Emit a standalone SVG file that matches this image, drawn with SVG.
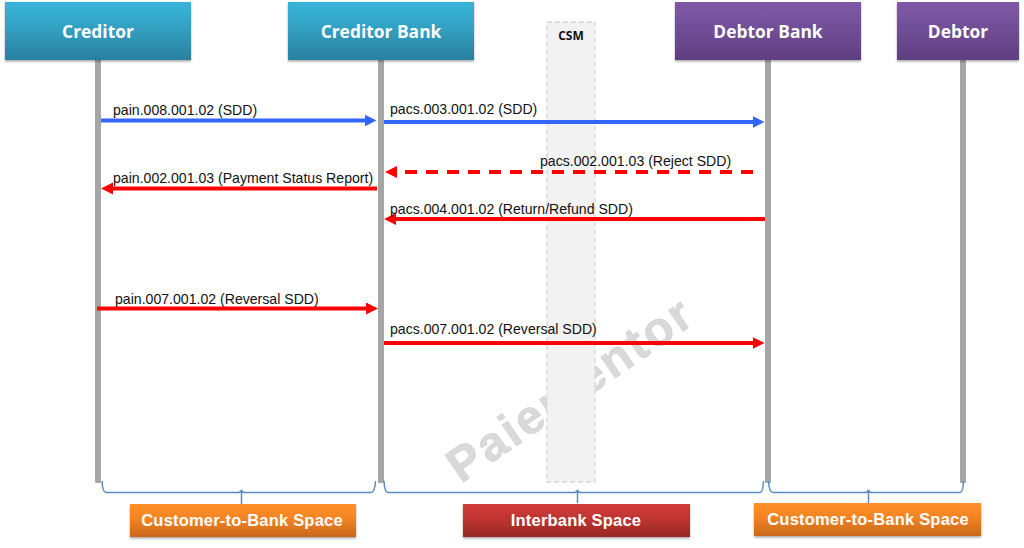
<svg xmlns="http://www.w3.org/2000/svg" width="1024" height="548" viewBox="0 0 1024 548">
<style>
.hd{font:bold 17.4px "Open Sans","Liberation Sans",sans-serif;fill:#fff;text-anchor:middle}
.lb{font:14.1px "Liberation Sans",Arial,sans-serif;fill:#111}
.sp{font:bold 16.5px "Liberation Sans",Arial,sans-serif;fill:#fff;text-anchor:middle;letter-spacing:.2px}
.life{fill:#a6a6a6}
.blue{stroke:#3366ff;stroke-width:4;fill:none}
.red{stroke:#ff0000;stroke-width:4;fill:none}
.brace{stroke:#5b8ac6;stroke-width:1.5;fill:none}
</style>
<defs>
<linearGradient id="t" x1="0" y1="0" x2="0" y2="1"><stop offset="0" stop-color="#38b4d8"/><stop offset=".35" stop-color="#33a6c8"/><stop offset="1" stop-color="#2a809e"/></linearGradient>
<linearGradient id="p" x1="0" y1="0" x2="0" y2="1"><stop offset="0" stop-color="#7f59a8"/><stop offset=".35" stop-color="#74519b"/><stop offset="1" stop-color="#5e3f80"/></linearGradient>
<linearGradient id="o" x1="0" y1="0" x2="0" y2="1"><stop offset="0" stop-color="#ff9029"/><stop offset=".4" stop-color="#f58523"/><stop offset="1" stop-color="#c8681c"/></linearGradient>
<linearGradient id="r" x1="0" y1="0" x2="0" y2="1"><stop offset="0" stop-color="#cf3d3a"/><stop offset=".4" stop-color="#c23532"/><stop offset="1" stop-color="#982826"/></linearGradient>
<filter id="s" x="-5%" y="-10%" width="110%" height="125%"><feDropShadow dx="0" dy="1.5" stdDeviation="1.2" flood-color="#000" flood-opacity=".35"/></filter>
<marker id="ab" markerUnits="userSpaceOnUse" markerWidth="13" markerHeight="13" refX="1" refY="6" orient="auto"><path d="M0 0L12 6L0 12Z" fill="#3366ff"/></marker>
<marker id="ar" markerUnits="userSpaceOnUse" markerWidth="13" markerHeight="13" refX="1" refY="6" orient="auto"><path d="M0 0L12 6L0 12Z" fill="#ff0000"/></marker>
</defs>
<rect width="1024" height="548" fill="#fff"/>
<text id="watermark" transform="translate(461 484) rotate(-34.500)" style="font:bold 48px 'Liberation Sans',Arial,sans-serif" fill="#d9d9d9" stroke="#d0d0d0" stroke-width=".6" letter-spacing="2.6">Paiementor</text>
<g id="csm"><rect x="547" y="22" width="48" height="460" fill="#f2f2f2" stroke="#d4d4d4" stroke-width="1.3" stroke-dasharray="5 3"/><text x="571" y="40" text-anchor="middle" style="font:bold 12px 'Open Sans','Liberation Sans',sans-serif" fill="#111">CSM</text></g>
<g id="lifelines">
<rect class="life" x="95" y="58" width="6" height="425" rx="1"/>
<rect class="life" x="378" y="58" width="6" height="425" rx="1"/>
<rect class="life" x="765" y="58" width="6" height="425" rx="1"/>
<rect class="life" x="960" y="58" width="6" height="425" rx="1"/>
</g>
<g id="creditor"><rect x="5" y="2" width="186" height="58" fill="url(#t)" filter="url(#s)"/><text class="hd" x="98" y="38">Creditor</text></g>
<g id="creditor-bank"><rect x="288" y="2" width="186" height="58" fill="url(#t)" filter="url(#s)"/><text class="hd" x="381" y="38">Creditor Bank</text></g>
<g id="debtor-bank"><rect x="675" y="2" width="186" height="58" fill="url(#p)" filter="url(#s)"/><text class="hd" x="768" y="38">Debtor Bank</text></g>
<g id="debtor"><rect x="897" y="2" width="122" height="58" fill="url(#p)" filter="url(#s)"/><text class="hd" x="958" y="38">Debtor</text></g>
<g id="connectors">
<path class="blue" d="M101 120.500H365.500" marker-end="url(#ab)"/>
<path class="blue" d="M384 122H753.500" marker-end="url(#ab)"/>
<path class="red" d="M753 172H396" stroke-dasharray="12 9" marker-end="url(#ar)"/>
<path class="red" d="M377 188.500H112" marker-end="url(#ar)"/>
<path class="red" d="M765 219H395" marker-end="url(#ar)"/>
<path class="red" d="M97 308.500H367" marker-end="url(#ar)"/>
<path class="red" d="M384 343H753.500" marker-end="url(#ar)"/>
</g>
<g id="labels">
<text class="lb" x="113" y="115">pain.008.001.02 (SDD)</text>
<text class="lb" x="390" y="114">pacs.003.001.02 (SDD)</text>
<text class="lb" x="540" y="166">pacs.002.001.03 (Reject SDD)</text>
<text class="lb" x="113" y="182.500">pain.002.001.03 (Payment Status Report)</text>
<text class="lb" x="390" y="214">pacs.004.001.02 (Return/Refund SDD)</text>
<text class="lb" x="115" y="304">pain.007.001.02 (Reversal SDD)</text>
<text class="lb" x="390" y="334">pacs.007.001.02 (Reversal SDD)</text>
</g>
<g id="braces">
<path class="brace" d="M102 481Q102.500 492 106 492.500H238Q241 492.500 241.500 490Q242 492.500 245 492.500H371Q375 492.500 375.500 481M241.500 491V504"/>
<path class="brace" d="M384 481Q384.500 492.500 388 492.500H574Q577 492.500 577.500 490Q578 492.500 581 492.500H760Q763 492.500 763.500 481M577.500 491V503"/>
<path class="brace" d="M768.500 481Q769 492.500 773 492.500H865Q868 492.500 868.500 490Q869 492.500 872 492.500H960Q963 492.500 963.500 481M868.500 491V503"/>
</g>
<g id="space-1"><rect x="130" y="504" width="226" height="33" fill="url(#o)" filter="url(#s)"/><text class="sp" x="242" y="526">Customer-to-Bank Space</text></g>
<g id="space-2"><rect x="463" y="504" width="227" height="33" fill="url(#r)" filter="url(#s)"/><text class="sp" x="576" y="526">Interbank Space</text></g>
<g id="space-3"><rect x="754" y="503" width="227" height="33" fill="url(#o)" filter="url(#s)"/><text class="sp" x="868" y="525">Customer-to-Bank Space</text></g>
</svg>
